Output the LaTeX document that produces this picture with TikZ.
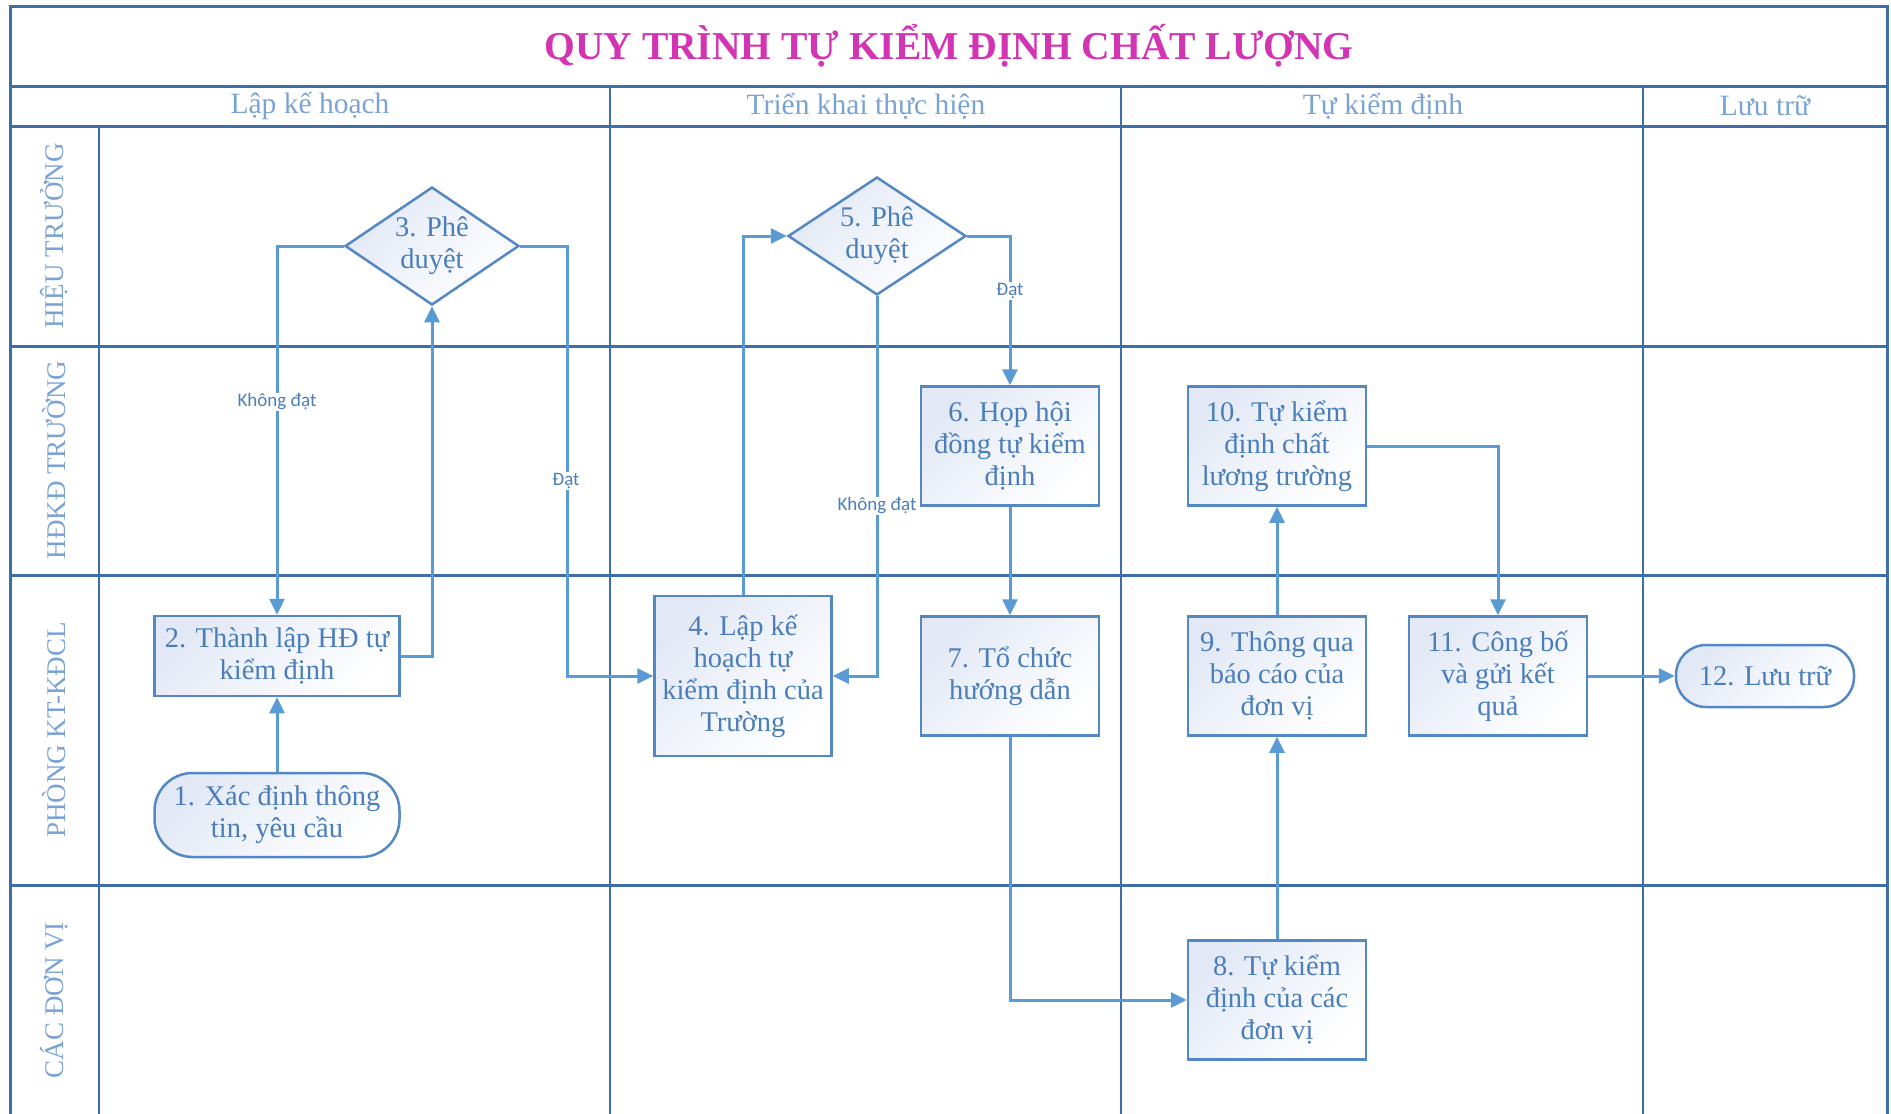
\documentclass[tikz,border=0pt]{standalone}
\usepackage{fontspec}
\setmainfont{Liberation Serif}
\newfontfamily\lblfont{Carlito}
\usetikzlibrary{arrows.meta,shapes.geometric}
\definecolor{frameblue}{RGB}{62,110,166}
\definecolor{nodeborder}{RGB}{84,136,196}
\definecolor{flowblue}{RGB}{91,155,213}
\definecolor{nodetext}{RGB}{74,126,187}
\definecolor{headtext}{RGB}{122,163,212}
\definecolor{titlemag}{RGB}{210,52,180}
\definecolor{nodefill}{RGB}{226,232,245}
\tikzset{
  frameline/.style={draw=frameblue, line width=3pt},
  colline/.style={draw=frameblue, line width=2pt},
  boxbase/.style={draw=nodeborder, line width=2.5pt, text=nodetext, align=center,
    font=\fontsize{28.5}{32}\selectfont, inner sep=2pt,
    top color=nodefill, bottom color=white, shading angle=45},
  procbox/.style={boxbase, rectangle, minimum width=#1, minimum height=119pt},
  termbox/.style={boxbase, rectangle, rounded corners=38pt},
  decbox/.style={boxbase, diamond, inner sep=0pt, aspect=1.5},
  flow/.style={draw=flowblue, line width=3pt, -{Triangle[length=16pt,width=15pt]}},
  lbl/.style={fill=white, text=nodetext, inner sep=1pt, font=\lblfont\fontsize{19}{22}\selectfont},
  headlbl/.style={text=headtext, font=\fontsize{29.5}{32}\selectfont},
  lanelbl/.style={text=headtext, rotate=90, font=\fontsize{27}{30}\selectfont},
}
\begin{document}
\begin{tikzpicture}[x=1pt, y=-1pt]
\useasboundingbox (0,0) rectangle (1891,1114);
% frame and grid
\draw[frameline] (10,1114) -- (10,6) -- (1887,6) -- (1887,1114);
\draw[frameline] (10,86) -- (1887,86);
\draw[frameline] (10,126) -- (1887,126);
\draw[frameline] (10,346) -- (1887,346);
\draw[frameline] (10,575) -- (1887,575);
\draw[frameline] (10,885) -- (1887,885);
\draw[colline] (99,126) -- (99,1114);
\draw[colline] (610,86) -- (610,1114);
\draw[colline] (1121,86) -- (1121,1114);
\draw[colline] (1643,86) -- (1643,1114);
% title
\node[text=titlemag, font=\bfseries\fontsize{39.5}{44}\selectfont] (title) at (949,46) {QUY TRÌNH TỰ KIỂM ĐỊNH CHẤT LƯỢNG};
% headers
\node[headlbl] (h1) at (310,106) {Lập kế hoạch};
\node[headlbl] (h2) at (866,106) {Triển khai thực hiện};
\node[headlbl] (h3) at (1383,106) {Tự kiểm định};
\node[headlbl] (h4) at (1765,106) {Lưu trữ};
% lane labels
\node[lanelbl] (l1) at (54,236) {HIỆU TRƯỞNG};
\node[lanelbl] (l2) at (54,460) {HĐKĐ TRƯỜNG};
\node[lanelbl] (l3) at (54,730) {PHÒNG KT-KĐCL};
\node[lanelbl] (l4) at (54,1000) {CÁC ĐƠN VỊ};
% nodes
\node[termbox, minimum width=245pt, minimum height=84pt] (n1) at (277,815) {1. Xác định thông\\tin, yêu cầu};
\node[boxbase, minimum width=245pt, minimum height=80pt] (n2) at (277,656) {2. Thành lập HĐ tự\\kiểm định};
\node[decbox, minimum width=174pt, minimum height=118pt] (n3) at (432,246) {3. Phê\\duyệt};
\node[boxbase, minimum width=177pt, minimum height=160pt] (n4) at (743,676) {4. Lập kế\\hoạch tự\\kiểm định của\\Trường};
\node[decbox, minimum width=178pt, minimum height=118pt] (n5) at (877,236) {5. Phê\\duyệt};
\node[procbox=178pt] (n6) at (1010,446) {6. Họp hội\\đồng tự kiểm\\định};
\node[procbox=178pt] (n7) at (1010,676) {7. Tổ chức\\hướng dẫn};
\node[procbox=178pt] (n8) at (1277,1000) {8. Tự kiểm\\định của các\\đơn vị};
\node[procbox=178pt] (n9) at (1277,676) {9. Thông qua\\báo cáo của\\đơn vị};
\node[procbox=178pt] (n10) at (1277,446) {10. Tự kiểm\\định chất\\lương trường};
\node[procbox=178pt] (n11) at (1498,676) {11. Công bố\\và gửi kết\\quả};
\node[termbox, rounded corners=30pt, minimum width=178pt, minimum height=62pt] (n12) at (1765,676) {12. Lưu trữ};
% connectors
\draw[flow] (n1.north) -- (n2.south);
\draw[flow] (n2.east) -| (n3.south);
\draw[flow] (n3.west) -| (n2.north);
\draw[flow] (n3.east) -- ++(47,0) |- (n4.west);
\draw[flow] (n4.north) |- (n5.west);
\draw[flow] (n5.south) |- (n4.east);
\draw[flow] (n5.east) -| (n6.north);
\draw[flow] (n6.south) -- (n7.north);
\draw[flow] (n7.south) |- (n8.west);
\draw[flow] (n8.north) -- (n9.south);
\draw[flow] (n9.north) -- (n10.south);
\draw[flow] (n10.east) -| (n11.north);
\draw[flow] (n11.east) -- (n12.west);
% connector labels
\node[lbl] (k1) at (277,402) {Không đạt};
\node[lbl] (d1) at (566,481) {Đạt};
\node[lbl] (k2) at (877,506) {Không đạt};
\node[lbl] (d2) at (1010,291) {Đạt};
\end{tikzpicture}
\end{document}
